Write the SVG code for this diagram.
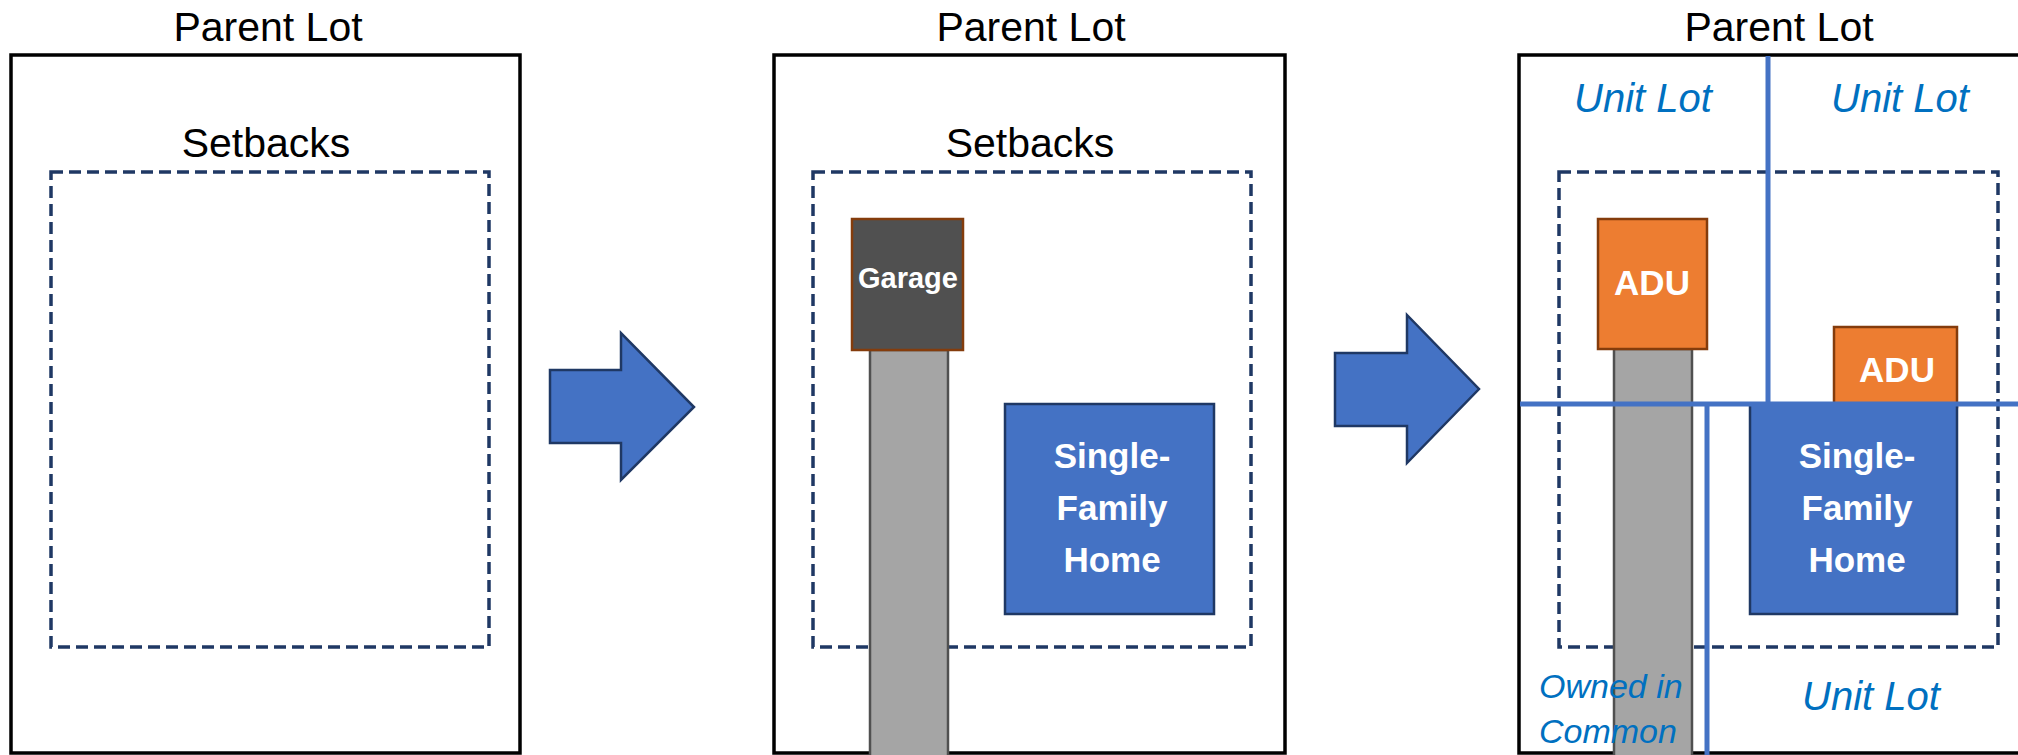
<svg xmlns="http://www.w3.org/2000/svg" width="2018" height="755" viewBox="0 0 2018 755">
<style>
.lot{fill:#fff;stroke:#000;stroke-width:3.5}
.setback{fill:none;stroke:#1F3864;stroke-width:3.5;stroke-dasharray:12 6}
.title{font-family:"Liberation Sans",Arial,sans-serif;font-size:41px;fill:#000;text-anchor:middle}
.drive{fill:#A5A5A5;stroke:#505050;stroke-width:2.5}
.garage{fill:#505050;stroke:#843C0C;stroke-width:2.5}
.adu{fill:#ED7D31;stroke:#843C0C;stroke-width:2.5}
.sfh{fill:#4472C4;stroke:#1F3864;stroke-width:2.5}
.lbl{font-family:"Liberation Sans",Arial,sans-serif;font-weight:bold;fill:#fff;text-anchor:middle}
.arrow{fill:#4472C4;stroke:#1F3864;stroke-width:2.5;stroke-linejoin:miter}
.div{stroke:#4472C4;stroke-width:5;fill:none}
.unit{font-family:"Liberation Sans",Arial,sans-serif;font-style:italic;font-size:40px;fill:#0070C0;text-anchor:middle}
.owned{font-family:"Liberation Sans",Arial,sans-serif;font-style:italic;font-size:34px;fill:#0070C0}
</style>

<g id="panel1">
  <rect class="lot" x="11" y="55" width="509" height="698"/>
  <text class="title" x="268" y="41">Parent Lot</text>
  <rect class="setback" x="51" y="172" width="438" height="475"/>
  <text class="title" x="266" y="157">Setbacks</text>
</g>

<g id="arrow1">
  <polygon class="arrow" points="550,370 621,370 621,333 694,407 621,480 621,443 550,443"/>
</g>

<g id="panel2">
  <rect class="lot" x="774" y="55" width="511" height="698"/>
  <text class="title" x="1031" y="41">Parent Lot</text>
  <rect class="setback" x="813" y="172" width="438" height="475"/>
  <text class="title" x="1030" y="157">Setbacks</text>
  <g id="driveway2"><rect class="drive" x="870" y="350" width="78" height="410"/></g>
  <g id="garage">
    <rect class="garage" x="852" y="219" width="111" height="131"/>
    <text class="lbl" x="908" y="288" font-size="29">Garage</text>
  </g>
  <g id="sfh2">
    <rect class="sfh" x="1005" y="404" width="209" height="210"/>
    <text class="lbl" font-size="35" x="1112" y="468">Single-</text>
    <text class="lbl" font-size="35" x="1112" y="520">Family</text>
    <text class="lbl" font-size="35" x="1112" y="572">Home</text>
  </g>
</g>

<g id="arrow2">
  <polygon class="arrow" points="1335,353 1407,353 1407,315 1479,389 1407,463 1407,426 1335,426"/>
</g>

<g id="panel3">
  <rect class="lot" x="1519" y="55" width="530" height="698"/>
  <text class="title" x="1779" y="41">Parent Lot</text>
  <rect class="setback" x="1559" y="172" width="439" height="475"/>
  <g id="driveway3"><rect class="drive" x="1614" y="349" width="78" height="411"/></g>
  <g id="adu1">
    <rect class="adu" x="1598" y="219" width="109" height="130"/>
    <text class="lbl" x="1652" y="295" font-size="35">ADU</text>
  </g>
  <g id="adu2">
    <rect class="adu" x="1834" y="327" width="123" height="80"/>
    <text class="lbl" x="1897" y="382" font-size="35">ADU</text>
  </g>
  <g id="sfh3">
    <rect class="sfh" x="1750" y="404" width="207" height="210"/>
    <text class="lbl" font-size="35" x="1857" y="468">Single-</text>
    <text class="lbl" font-size="35" x="1857" y="520">Family</text>
    <text class="lbl" font-size="35" x="1857" y="572">Home</text>
  </g>
</g>

<g id="connectors">
  <line class="div" x1="1768" y1="56" x2="1768" y2="404"/>
  <line class="div" x1="1520" y1="404" x2="2018" y2="404"/>
  <line class="div" x1="1707" y1="404" x2="1707" y2="755"/>
</g>

<g id="unit-lot-labels">
  <text class="unit" x="1643" y="112">Unit Lot</text>
  <text class="unit" x="1900" y="112">Unit Lot</text>
  <text class="unit" x="1871" y="710">Unit Lot</text>
  <text class="owned" x="1539" y="698">Owned in</text>
  <text class="owned" x="1539" y="743">Common</text>
</g>
</svg>
